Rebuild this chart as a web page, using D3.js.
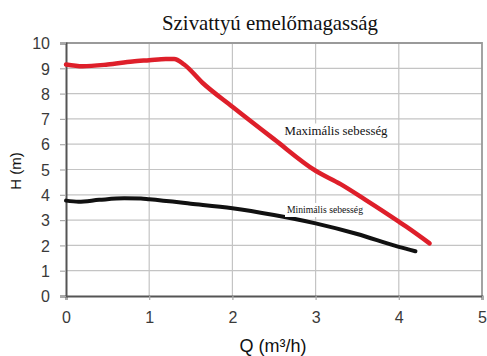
<!DOCTYPE html>
<html>
<head>
<meta charset="utf-8">
<script src="https://cdn.jsdelivr.net/npm/d3@7"></script>
<style>
  html, body { margin: 0; padding: 0; background: #fff; }
  svg { display: block; }
</style>
</head>
<body>
<svg id="chart" width="487" height="356"></svg>
<script>
// ---- data ----
const title = "Szivattyú emelőmagasság";
const xTicks = [0, 1, 2, 3, 4, 5];
const yTicks = [0, 1, 2, 3, 4, 5, 6, 7, 8, 9, 10];
const maxQ = [0, 0.2, 0.5, 0.8, 1.0, 1.2, 1.3, 1.42, 1.64, 2.0, 2.5, 3.0, 3.3, 3.6, 4.0, 4.09, 4.37];
const maxH = [9.15, 9.08, 9.15, 9.27, 9.32, 9.37, 9.37, 9.15, 8.43, 7.48, 6.2, 4.95, 4.42, 3.8, 2.94, 2.74, 2.08];
const minQ = [0, 0.15, 0.4, 0.7, 0.9, 1.0, 1.5, 2.0, 2.5, 3.0, 3.5, 4.0, 4.2];
const minH = [3.77, 3.73, 3.8, 3.86, 3.85, 3.82, 3.65, 3.47, 3.2, 2.87, 2.45, 1.94, 1.77];
const maxLabel = "Maximális sebesség";
const minLabel = "Minimális sebesség";
const xTitle = "Q (m³/h)";
const yTitle = "H (m)";

// ---- layout ----
const svg = d3.select("#chart");
const L = 66, R = 482, T = 43, B = 296;
const x = d3.scaleLinear().domain([0, 5]).range([L, R]);
const y = d3.scaleLinear().domain([0, 10]).range([B, T]);

// grid
svg.append("g").selectAll("line").data(xTicks.slice(1, -1)).join("line")
  .attr("x1", d => x(d)).attr("x2", d => x(d)).attr("y1", T).attr("y2", B)
  .attr("stroke", "#c4c4c4").attr("stroke-width", 1.2);
svg.append("g").selectAll("line").data(yTicks.slice(1, -1)).join("line")
  .attr("x1", L).attr("x2", R).attr("y1", d => y(d)).attr("y2", d => y(d))
  .attr("stroke", "#c4c4c4").attr("stroke-width", 1.2);

// frame top/right
svg.append("path")
  .attr("d", `M${L},${T}H${R}V${B}`)
  .attr("fill", "none").attr("stroke", "#9a9a9a").attr("stroke-width", 1.8);

// axes
const xAxis = d3.axisBottom(x).tickValues(xTicks).tickSize(4).tickPadding(12).tickFormat(d3.format("d"));
const yAxis = d3.axisLeft(y).tickValues(yTicks).tickSize(6).tickPadding(10).tickFormat(d3.format("d"));
const gx = svg.append("g").attr("transform", `translate(0,${B})`).call(xAxis);
const gy = svg.append("g").attr("transform", `translate(${L},0)`).call(yAxis);
[gx, gy].forEach(g => {
  g.select(".domain").attr("stroke", "#555").attr("stroke-width", 2);
  g.selectAll(".tick line").attr("stroke", "#aaa").attr("stroke-width", 1.2);
  g.selectAll(".tick text").attr("fill", "#3a3a3a")
    .style("font-family", "'Liberation Sans', Arial, sans-serif").style("font-size", "16px");
});
gy.selectAll(".tick text").attr("dy", "0.36em");

// curves
const line = d3.line().x(d => x(d[0])).y(d => y(d[1])).curve(d3.curveMonotoneX);
svg.append("path").datum(minQ.map((q, i) => [q, minH[i]]))
  .attr("d", line).attr("fill", "none").attr("stroke", "#111")
  .attr("stroke-width", 4).attr("stroke-linecap", "round");
svg.append("path").datum(maxQ.map((q, i) => [q, maxH[i]]))
  .attr("d", line).attr("fill", "none").attr("stroke", "#de1f2a")
  .attr("stroke-width", 4.5).attr("stroke-linecap", "round");

// curve labels
function label(txt, cx, by, w, size) {
  svg.append("rect").attr("x", cx - w / 2 - 2).attr("y", by - size + 1)
    .attr("width", w + 4).attr("height", size + 3).attr("fill", "#fff");
  svg.append("text").attr("x", cx).attr("y", by).attr("text-anchor", "middle")
    .attr("textLength", w).attr("lengthAdjust", "spacingAndGlyphs")
    .style("font-family", "'Liberation Serif', 'Times New Roman', serif")
    .style("font-size", size + "px").attr("fill", "#111").text(txt);
}
label(maxLabel, 336, 135, 103, 12.5);
label(minLabel, 325, 213, 76, 11);

// title
svg.append("text").attr("x", 270).attr("y", 30).attr("text-anchor", "middle")
  .attr("textLength", 216).attr("lengthAdjust", "spacingAndGlyphs")
  .style("font-family", "'Liberation Serif', 'Times New Roman', serif")
  .style("font-size", "21px").attr("fill", "#111").text(title);

// axis titles
svg.append("text").attr("x", 273).attr("y", 352).attr("text-anchor", "middle")
  .style("font-family", "'Liberation Sans', Arial, sans-serif")
  .style("font-size", "18px").attr("fill", "#111").text(xTitle);
svg.append("text").attr("transform", "translate(21,171) rotate(-90)").attr("text-anchor", "middle")
  .style("font-family", "'Liberation Sans', Arial, sans-serif")
  .style("font-size", "15px").attr("fill", "#111").text(yTitle);
</script>
</body>
</html>
